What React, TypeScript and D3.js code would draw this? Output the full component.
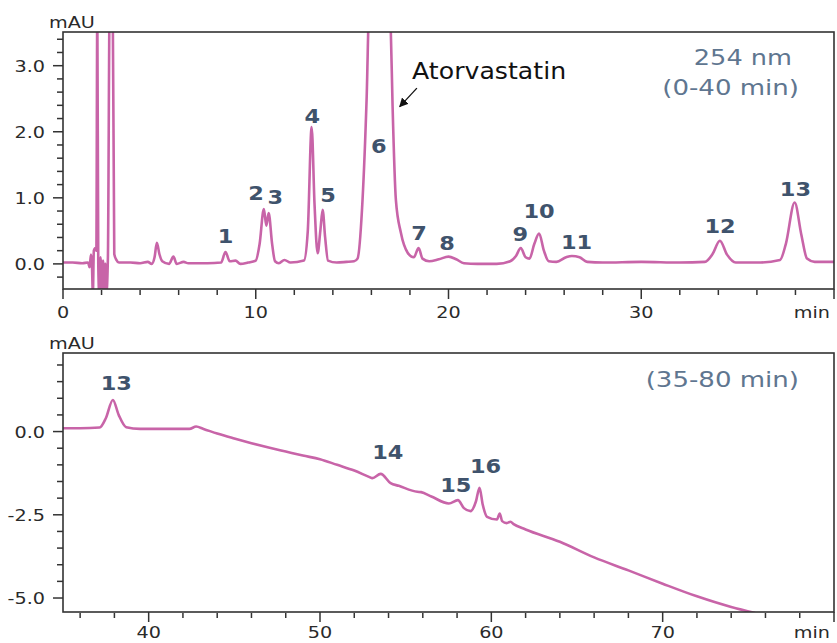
import React from "react";
import * as d3 from "d3";

// ---------- data ----------
// Top panel: 254 nm, 0-40 min
const topTime = [
  0.0, 0.5, 1.0, 1.3, 1.38, 1.45, 1.5, 1.55, 1.6, 1.68, 1.73, 1.78, 1.83, 1.88, 1.95, 2.0,
  2.08, 2.13, 2.2, 2.25, 2.33, 2.42, 2.58, 2.66, 2.77, 2.9, 3.5, 4.0, 4.4, 4.6, 4.75, 4.87,
  5.0, 5.15, 5.5, 5.73, 5.9, 6.26, 6.5, 7.5, 8.2, 8.43, 8.65, 8.95, 9.2, 9.6, 10.0, 10.2,
  10.42, 10.55, 10.67, 10.85, 11.0, 11.2, 11.49, 11.8, 12.5, 12.7, 12.9, 13.05, 13.21, 13.35,
  13.47, 13.6, 13.75, 14.2, 14.7, 15.1, 15.28, 15.54, 15.75, 15.9, 16.9, 17.0, 17.1, 17.27,
  17.53, 17.88, 18.2, 18.45, 18.65, 19.0, 19.5, 20.0, 20.4, 20.8, 21.5, 22.5, 23.2, 23.5,
  23.75, 24.0, 24.2, 24.45, 24.7, 24.95, 25.2, 25.6, 26.1, 26.4, 26.8, 27.2, 28.0, 30.0,
  32.0, 33.3, 33.7, 34.08, 34.45, 34.9, 36.0, 37.2, 37.5, 37.96, 38.3, 38.6, 39.0, 40.0,
];
const topSignal = [
  0.02, 0.02, 0.01, 0.02, -0.05, 0.14, 0.0, -0.45, 0.2, 0.24, 0.2, 3.9, 0.0, -0.45, 0.1, -0.45,
  0.05, -0.45, 0.0, -0.45, 0.1, 3.9, 3.9, 0.15, 0.06, 0.02, 0.02, 0.01, 0.03, 0.0, 0.1, 0.32,
  0.15, 0.04, 0.0, 0.11, 0.0, 0.03, 0.01, 0.01, 0.02, 0.18, 0.04, 0.05, 0.0, 0.02, 0.05, 0.3,
  0.83, 0.58, 0.77, 0.3, 0.04, 0.01, 0.06, 0.02, 0.05, 0.5, 2.07, 0.9, 0.16, 0.5,
  0.82, 0.4, 0.05, 0.02, 0.03, 0.04, 0.08, 0.97, 2.48, 4.0, 4.0, 3.6, 2.38, 0.97,
  0.47, 0.17, 0.1, 0.24, 0.08, 0.04, 0.07, 0.11, 0.07, 0.01, 0.0, 0.0, 0.04, 0.12,
  0.24, 0.1, 0.08, 0.3, 0.46, 0.2, 0.04, 0.03, 0.1, 0.12, 0.1, 0.03, 0.02, 0.03,
  0.02, 0.03, 0.15, 0.35, 0.14, 0.02, 0.02, 0.06, 0.3, 0.93, 0.45, 0.08, 0.03, 0.03,
];
const topPeakNames = ["1", "2", "3", "4", "5", "6", "7", "8", "9", "10", "11", "12", "13"];
const topPeakTimes = [8.43, 10.02, 11.01, 12.93, 13.75, 16.38, 18.47, 19.93, 23.73, 24.7, 26.64, 34.09, 38.0];
const topPeakLabelLevels = [0.32, 0.97, 0.91, 2.14, 0.94, 1.68, 0.36, 0.21, 0.34, 0.69, 0.22, 0.47, 1.03];

// Bottom panel: 35-80 min
const bottomTime = [
  35.0, 36.0, 37.14, 37.5, 37.91, 38.25, 38.69, 39.5, 40.5, 41.5, 42.38, 42.77, 43.2, 44.0,
  45.0, 46.0, 47.0, 48.0, 49.0, 50.0, 51.0, 52.0, 52.86, 53.06, 53.54, 54.12, 54.6, 55.68,
  55.9, 56.5, 57.52, 58.05, 58.4, 58.79, 59.1, 59.31, 59.5, 59.75, 60.33, 60.49, 60.63,
  60.9, 61.12, 61.3, 62.0, 64.0, 66.0, 68.0, 70.0, 72.0, 74.0, 75.4,
];
const bottomSignal = [
  0.1, 0.1, 0.12, 0.4, 0.95, 0.5, 0.13, 0.08, 0.08, 0.08, 0.08, 0.15, 0.08, -0.06,
  -0.21, -0.35, -0.48, -0.6, -0.72, -0.83, -1.0, -1.17, -1.36, -1.4, -1.27, -1.55, -1.63, -1.81,
  -1.82, -1.95, -2.16, -2.06, -2.3, -2.39, -2.1, -1.69, -2.2, -2.56, -2.64, -2.46, -2.69,
  -2.75, -2.71, -2.78, -2.94, -3.31, -3.78, -4.17, -4.57, -4.95, -5.27, -5.45,
];
const bottomPeakNames = ["13", "14", "15", "16"];
const bottomPeakTimes = [38.11, 53.96, 57.93, 59.66];
const bottomPeakLabelLevels = [1.26, -0.83, -1.83, -1.25];

const topXMajor = [0, 10, 20, 30, 40];
const topXLabels = [0, 10, 20, 30];
const topYMajor = [0, 1, 2, 3];
const bottomXMajor = [40, 50, 60, 70, 80];
const bottomXLabels = [40, 50, 60, 70];
const bottomYMajor = [0, -2.5, -5];

// annotation (data units)
const arrowTail = [18.36, 2.66];
const arrowTip = [17.47, 2.38];
const atorvaPos = [18.11, 2.8];

// ---------- styles ----------
const W = 837;
const H = 643;
const LINE = "#c864a8";
const PEAK = "#3f536c";
const NOTE = "#5f7690";
const AXIS = "#333333";
const FONT = "'DejaVu Sans', Verdana, sans-serif";

function Txt({ x, y, sx = 1.2, anchor = "start", size = 16, weight = "normal", fill = "#2a2a2a", children }: any) {
  return (
    <text
      transform={`translate(${x},${y}) scale(${sx},1)`}
      textAnchor={anchor}
      fontSize={size}
      fontWeight={weight}
      fill={fill}
      fontFamily={FONT}
    >
      {children}
    </text>
  );
}

function range(a: number, b: number, step: number) {
  const out: number[] = [];
  for (let v = a; v <= b + 1e-9; v += step) out.push(Math.round(v * 1000) / 1000);
  return out;
}

function Panel({
  id, x0, x1, y0, y1, xDomain, yDomain, times, values, xMajor, xLabels, xMinorStep,
  yMajor, yMinorStep, peakNames, peakTimes, peakLevels, xLabelOffset = 29, children,
}: any) {
  const x = d3.scaleLinear().domain(xDomain).range([x0, x1]);
  const y = d3.scaleLinear().domain(yDomain).range([y1, y0]);
  const pts = times.map((t: number, i: number) => [t, values[i]] as [number, number]);
  const path = d3
    .line<[number, number]>()
    .x((d) => x(d[0]))
    .y((d) => y(d[1]))
    .curve(d3.curveMonotoneX)(pts) as string;

  const xMinor = range(Math.ceil(xDomain[0] / xMinorStep) * xMinorStep, xDomain[1], xMinorStep).filter(
    (v) => !xMajor.some((m: number) => Math.abs(m - v) < 1e-6)
  );
  const yMinor = range(Math.ceil(yDomain[0] / yMinorStep) * yMinorStep, yDomain[1], yMinorStep).filter(
    (v) => !yMajor.some((m: number) => Math.abs(m - v) < 1e-6)
  );

  return (
    <g>
      <defs>
        <clipPath id={id}>
          <rect x={x0} y={y0} width={x1 - x0} height={y1 - y0} />
        </clipPath>
      </defs>
      <path d={path} fill="none" stroke={LINE} strokeWidth={2.6} strokeLinejoin="round" clipPath={`url(#${id})`} />
      <rect x={x0} y={y0} width={x1 - x0} height={y1 - y0} fill="none" stroke={AXIS} strokeWidth={1.6} />
      {/* x ticks */}
      {xMajor.map((v: number) => (
        <line key={"xM" + v} x1={x(v)} x2={x(v)} y1={y1} y2={y1 + 10} stroke={AXIS} strokeWidth={1.5} />
      ))}
      {xMinor.map((v: number) => (
        <line key={"xm" + v} x1={x(v)} x2={x(v)} y1={y1 + 1} y2={y1 + 6} stroke={AXIS} strokeWidth={1.5} />
      ))}
      {xLabels.map((v: number) => (
        <Txt key={"xl" + v} x={x(v)} y={y1 + xLabelOffset} anchor="middle" size={16}>
          {String(v)}
        </Txt>
      ))}
      <Txt x={830} y={y1 + xLabelOffset} anchor="end" size={16}>min</Txt>
      {/* y ticks */}
      {yMajor.map((v: number) => (
        <line key={"yM" + v} x1={x0 - 10} x2={x0} y1={y(v)} y2={y(v)} stroke={AXIS} strokeWidth={1.5} />
      ))}
      {yMinor.map((v: number) => (
        <line key={"ym" + v} x1={x0 - 6} x2={x0} y1={y(v)} y2={y(v)} stroke={AXIS} strokeWidth={1.5} />
      ))}
      {yMajor.map((v: number) => (
        <Txt key={"yl" + v} x={x0 - 18} y={y(v) + 6} anchor="end" size={16}>
          {v.toFixed(1)}
        </Txt>
      ))}
      <Txt x={49} y={y0 - 4} size={16}>mAU</Txt>
      {/* peak labels */}
      {peakNames.map((n: string, i: number) => (
        <Txt key={"p" + i} x={x(peakTimes[i])} y={y(peakLevels[i])} anchor="middle" size={19.5} weight="bold" fill={PEAK} sx={1.15}>
          {n}
        </Txt>
      ))}
      {children && children(x, y)}
    </g>
  );
}

export default function App() {
  return (
    <svg
      width={W}
      height={H}
      viewBox={`0 0 ${W} ${H}`}
      style={{ position: "absolute", left: 0, top: 0, background: "#fff" }}
    >
      <defs>
        <marker id="arrowHead" viewBox="0 0 10 10" refX="9" refY="5" markerWidth="7" markerHeight="7" orient="auto">
          <path d="M0,0 L10,5 L0,10 z" fill="#111" />
        </marker>
      </defs>
      <rect x={0} y={0} width={W} height={H} fill="#fff" />
      <Panel
        id="clipTop"
        x0={63}
        x1={834}
        y0={32}
        y1={289}
        xDomain={[0, 40]}
        yDomain={[-0.38, 3.51]}
        times={topTime}
        values={topSignal}
        xMajor={topXMajor}
        xLabels={topXLabels}
        xMinorStep={2}
        yMajor={topYMajor}
        yMinorStep={0.2}
        peakNames={topPeakNames}
        peakTimes={topPeakTimes}
        peakLevels={topPeakLabelLevels}
      >
        {(x: any, y: any) => (
          <g>
            <line
              x1={x(arrowTail[0])}
              y1={y(arrowTail[1])}
              x2={x(arrowTip[0])}
              y2={y(arrowTip[1])}
              stroke="#111"
              strokeWidth={1.3}
              markerEnd="url(#arrowHead)"
            />
            <Txt x={x(atorvaPos[0])} y={y(atorvaPos[1])} size={22.5} fill="#111" sx={1.12}>
              Atorvastatin
            </Txt>
            <Txt x={792} y={65} anchor="end" size={21} fill={NOTE} sx={1.22}>254 nm</Txt>
            <Txt x={799} y={95} anchor="end" size={21} fill={NOTE} sx={1.24}>(0-40 min)</Txt>
          </g>
        )}
      </Panel>
      <Panel
        id="clipBottom"
        x0={63}
        x1={834}
        y0={353}
        y1={612}
        xDomain={[35, 80]}
        yDomain={[-5.42, 2.36]}
        times={bottomTime}
        values={bottomSignal}
        xMajor={bottomXMajor}
        xLabels={bottomXLabels}
        xMinorStep={2}
        yMajor={bottomYMajor}
        yMinorStep={0.5}
        peakNames={bottomPeakNames}
        peakTimes={bottomPeakTimes}
        peakLevels={bottomPeakLabelLevels}
        xLabelOffset={26}
      >
        {() => (
          <Txt x={799} y={387} anchor="end" size={21} fill={NOTE} sx={1.24}>(35-80 min)</Txt>
        )}
      </Panel>
    </svg>
  );
}
